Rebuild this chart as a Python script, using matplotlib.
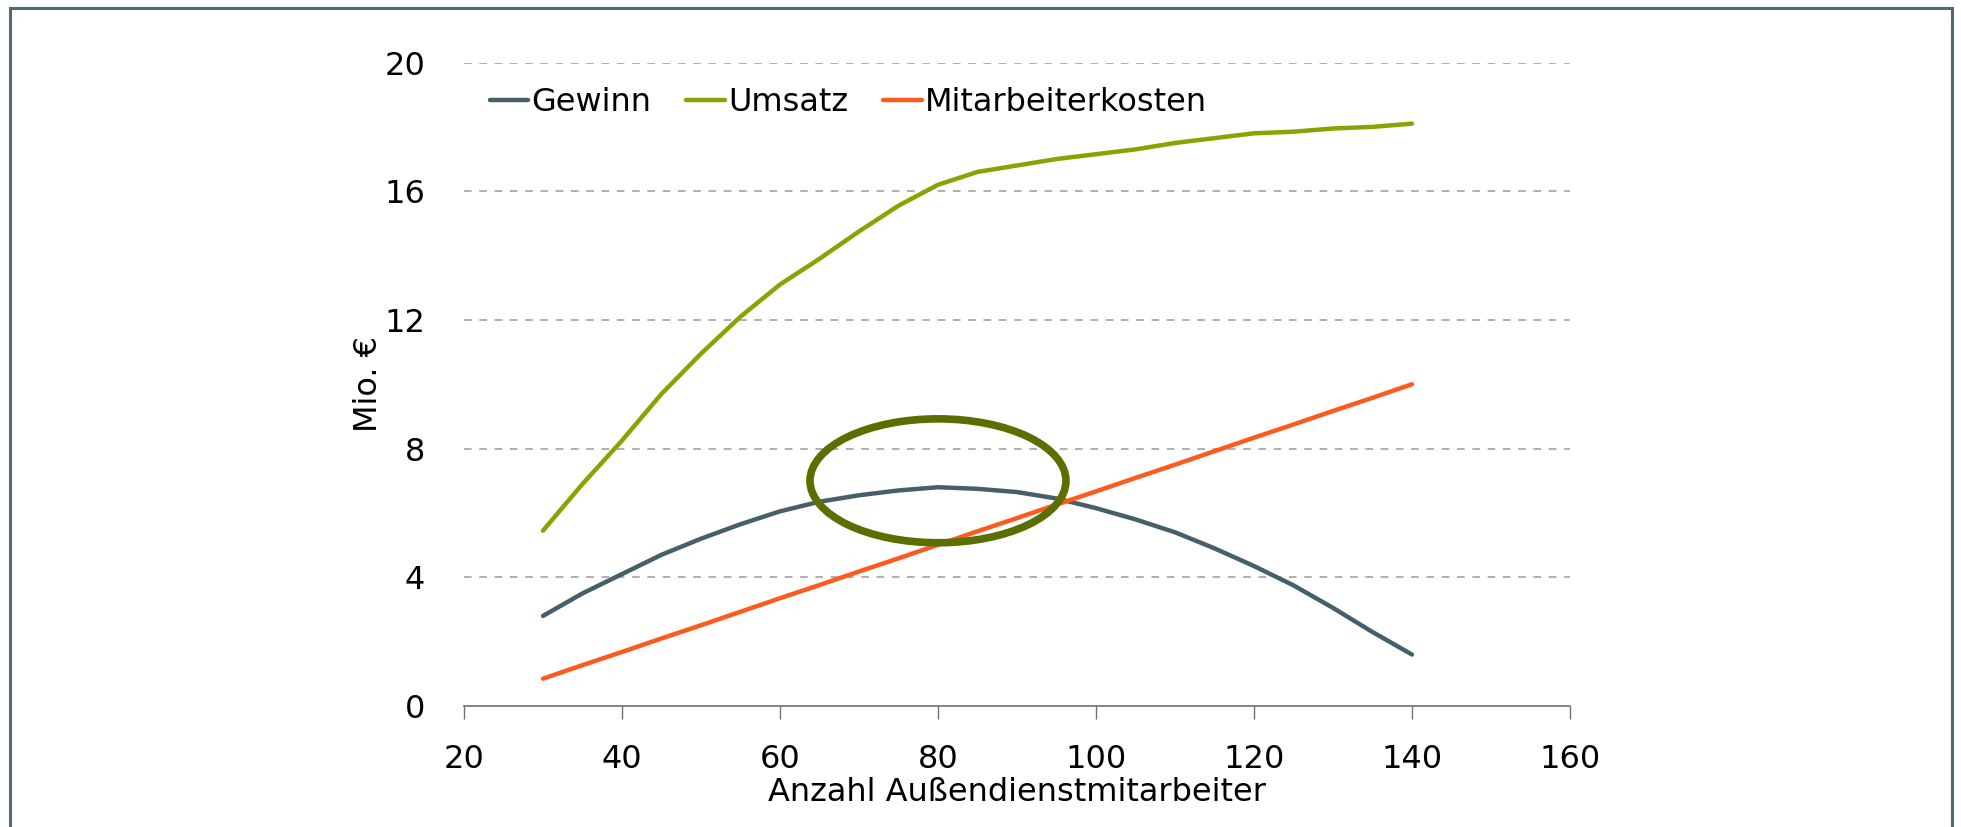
import matplotlib
matplotlib.use('Agg')
import matplotlib.pyplot as plt
from matplotlib.patches import Ellipse, Rectangle

plt.rcParams['font.family'] = ['DejaVu Sans']

# data
anzahl = [30, 35, 40, 45, 50, 55, 60, 65, 70, 75, 80, 85, 90,
          95, 100, 105, 110, 115, 120, 125, 130, 135, 140]
gewinn = [2.8, 3.5, 4.1, 4.7, 5.2, 5.65, 6.05, 6.35, 6.55, 6.7, 6.8, 6.75, 6.65,
          6.45, 6.15, 5.8, 5.4, 4.9, 4.35, 3.75, 3.05, 2.3, 1.6]
umsatz = [5.45, 6.9, 8.25, 9.7, 10.95, 12.1, 13.1, 13.9, 14.75, 15.55, 16.2, 16.6, 16.8,
          17.0, 17.15, 17.3, 17.5, 17.65, 17.8, 17.85, 17.95, 18.0, 18.1]
kosten = [0.85, 1.27, 1.68, 2.1, 2.51, 2.93, 3.35, 3.76, 4.18, 4.59, 5.01, 5.43, 5.84,
          6.26, 6.67, 7.09, 7.5, 7.92, 8.34, 8.75, 9.17, 9.58, 10.0]

x_ticks = [20, 40, 60, 80, 100, 120, 140, 160]
y_ticks = [0, 4, 8, 12, 16, 20]

C_GEWINN = '#455f6b'
C_UMSATZ = '#8aa300'
C_KOSTEN = '#ff5a1e'
C_OVAL = '#5b6f00'
C_FRAME = '#4f6a77'
FS = 23


def main():
    fig = plt.figure(figsize=(19.61, 8.27), dpi=100)
    ax = fig.add_axes([0.2366, 0.1463, 0.5640, 0.7781])

    ax.plot(anzahl, gewinn, color=C_GEWINN, lw=3.2, label='Gewinn', solid_capstyle='round')
    ax.plot(anzahl, umsatz, color=C_UMSATZ, lw=3.2, label='Umsatz', solid_capstyle='round')
    ax.plot(anzahl, kosten, color=C_KOSTEN, lw=3.2, label='Mitarbeiterkosten', solid_capstyle='round')

    ax.add_patch(Ellipse((80, 7.0), 32.4, 3.85, fill=False, edgecolor=C_OVAL, lw=5.5, zorder=5))

    ax.set_xlim(20, 160)
    ax.set_ylim(0, 20)
    ax.set_xticks(x_ticks)
    ax.set_yticks(y_ticks)
    ax.tick_params(axis='x', direction='out', length=9, width=1, color='#707070',
                   labelsize=FS, pad=18)
    ax.tick_params(axis='y', length=0, labelsize=FS, pad=28)

    for y in y_ticks[1:]:
        ax.axhline(y, color='#9a9a9a', lw=1.1, ls=(0, (5, 5)), zorder=0)

    for side in ['top', 'right', 'left']:
        ax.spines[side].set_visible(False)
    ax.spines['bottom'].set_color('#707070')
    ax.spines['bottom'].set_linewidth(1.2)

    ax.set_xlabel('Anzahl Außendienstmitarbeiter', fontsize=FS, labelpad=2)
    ax.set_ylabel('Mio. €', fontsize=FS, labelpad=0)

    ax.legend(loc='upper left', bbox_to_anchor=(0.006, 0.992), ncol=3, frameon=False,
              fontsize=FS, handlelength=1.2, handletextpad=0.1, columnspacing=1.1,
              borderaxespad=0.2)

    fig.patches.append(Rectangle((10 / 1961, -0.05), 1942 / 1961, 1.05 - 8 / 827,
                                 transform=fig.transFigure, fill=False,
                                 edgecolor=C_FRAME, lw=2.2))

    fig.savefig('out.png', dpi=100)


if __name__ == '__main__':
    main()
